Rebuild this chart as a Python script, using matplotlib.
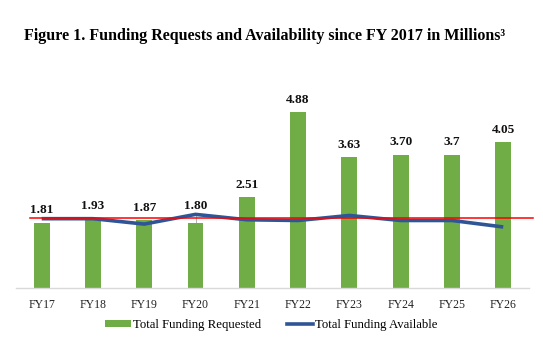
import matplotlib.pyplot as plt
from matplotlib.patches import Patch
from matplotlib.lines import Line2D

years = ['FY17', 'FY18', 'FY19', 'FY20', 'FY21', 'FY22', 'FY23', 'FY24', 'FY25', 'FY26']
requested = [1.81, 1.93, 1.87, 1.80, 2.51, 4.88, 3.63, 3.70, 3.70, 4.05]
requested_labels = ['1.81', '1.93', '1.87', '1.80', '2.51', '4.88', '3.63', '3.70', '3.7', '4.05']
available = [1.92, 1.92, 1.77, 2.04, 1.89, 1.87, 2.01, 1.87, 1.87, 1.69]
reference_level = 1.94

green = '#70AD47'
blue = '#2F5597'
serif = 'Liberation Serif'

fig = plt.figure(figsize=(5.43, 3.43), dpi=100)
ax = fig.add_axes([0.0295, 0.161, 0.9445, 0.577])

x = list(range(len(years)))
ax.bar(x, requested, width=0.31, color=green, zorder=2)
ax.plot(x, available, color=blue, linewidth=2.6, zorder=3, solid_capstyle='butt')
ax.plot([-0.23, 9.58], [reference_level, reference_level], color='#FF0000',
        linewidth=1.1, zorder=4, clip_on=False)

# value labels above the bars; FY20 sits a bit higher to clear the line
for i, (v, lab) in enumerate(zip(requested, requested_labels)):
    off = 12.2 if years[i] == 'FY20' else 9
    ax.annotate(lab, (i, v), xytext=(0, off), textcoords='offset points',
                ha='center', va='center', fontsize=9.5, fontweight='bold',
                family=serif, color='#111111', zorder=5)
ax.plot([3, 3], [1.80, 2.02], color='#A6A6A6', linewidth=0.6, zorder=1)

ax.set_xlim(-0.5, 9.5)
ax.set_ylim(0, 5.5)
ax.set_xticks(x)
ax.set_xticklabels(years, family=serif, fontsize=8.5, color='#222222')
ax.tick_params(axis='x', length=0, pad=8)
ax.set_yticks([])
for side in ['top', 'right', 'left']:
    ax.spines[side].set_visible(False)
ax.spines['bottom'].set_color('#D9D9D9')
ax.spines['bottom'].set_linewidth(1)

fig.text(0.487, 0.895, 'Figure 1. Funding Requests and Availability since FY 2017 in Millions\u00b3',
         ha='center', va='center', fontsize=11.5, fontweight='bold', family=serif)

handles = [Patch(facecolor=green), Line2D([0], [0], color=blue, linewidth=2.6)]
fig.legend(handles, ['Total Funding Requested', 'Total Funding Available'],
           loc='center', bbox_to_anchor=(0.5, 0.052), ncol=2, frameon=False,
           prop={'family': serif, 'size': 9.2}, handlelength=2.0, handleheight=0.5,
           columnspacing=2.0, handletextpad=0.2)

fig.savefig('out.png', dpi=100)
